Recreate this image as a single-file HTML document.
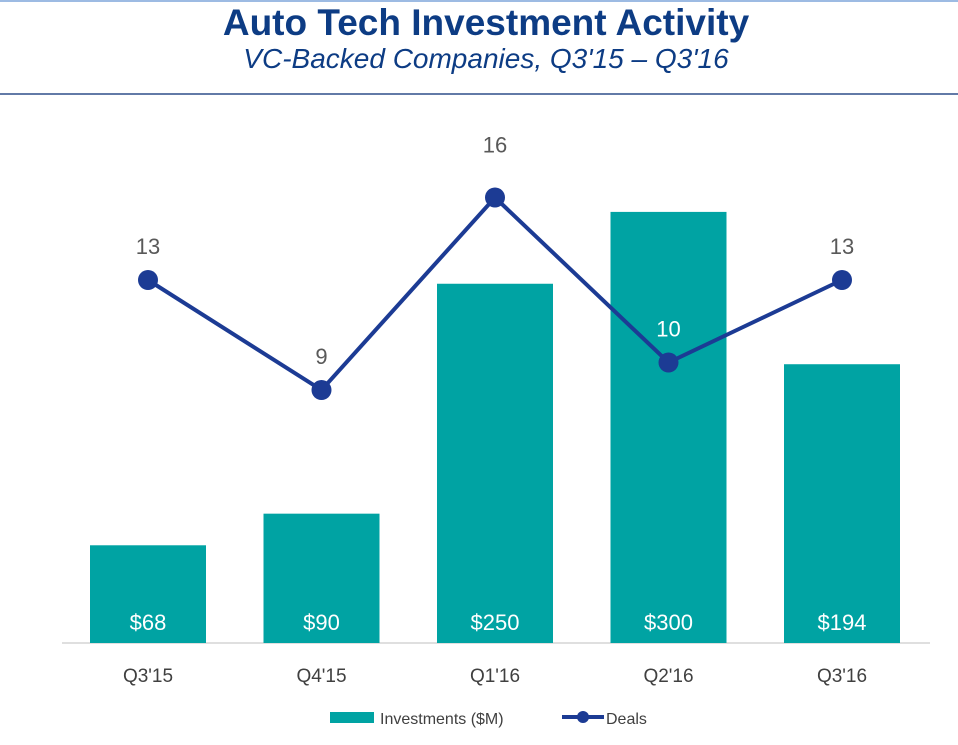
<!DOCTYPE html>
<html><head><meta charset="utf-8"><style>
body{margin:0;background:#fff;width:958px;height:740px;overflow:hidden;font-family:"Liberation Sans",sans-serif}
</style></head><body>
<svg width="958" height="740" xmlns="http://www.w3.org/2000/svg">
<line x1="0" y1="1" x2="958" y2="1" stroke="#9dbbe3" stroke-width="2"/>
<text x="486" y="35" text-anchor="middle" font-size="37" font-weight="bold" fill="#0d3c84">Auto Tech Investment Activity</text>
<text x="486" y="68" text-anchor="middle" font-size="28" font-style="italic" fill="#0d3c84">VC-Backed Companies, Q3'15 – Q3'16</text>
<line x1="0" y1="94" x2="958" y2="94" stroke="#2e4f8a" stroke-width="1.5"/>
<line x1="62" y1="643" x2="930" y2="643" stroke="#bfbfbf" stroke-width="1"/>
<g id="bars"></g><g id="line"></g><g id="xlabels"></g>
<g>
<rect x="330" y="712" width="44" height="11" fill="#00a3a3"/>
<text x="380" y="724" font-size="16" fill="#404040">Investments ($M)</text>
<line x1="562" y1="717" x2="604" y2="717" stroke="#1c3b94" stroke-width="4"/>
<circle cx="583" cy="717" r="6" fill="#1c3b94"/>
<text x="606" y="724" font-size="16" fill="#404040">Deals</text>
</g>
</svg>
<script>
const categories=["Q3'15","Q4'15","Q1'16","Q2'16","Q3'16"];
const investments=[68,90,250,300,194];
const deals=[13,9,16,10,13];
const NS="http://www.w3.org/2000/svg";
const xC=i=>148+i*173.5;
const yBar=v=>643-v*1.437;
const yDeal=d=>637.5-d*27.5;
function mk(t,a,p){const e=document.createElementNS(NS,t);for(const k in a)e.setAttribute(k,a[k]);p.appendChild(e);return e;}
const bars=document.getElementById('bars'),line=document.getElementById('line'),xl=document.getElementById('xlabels');
investments.forEach((v,i)=>{
 const r=mk('rect',{x:xC(i)-58,y:yBar(v),width:116,height:643-yBar(v),fill:'#00a3a3'},bars);
 
 
 const t=mk('text',{x:xC(i),y:630,'text-anchor':'middle','font-size':22,fill:'#fff'},bars);
 t.textContent='$'+v;
 
 
 const c=mk('text',{x:xC(i),y:682,'text-anchor':'middle','font-size':19,fill:'#404040'},xl);
 c.textContent=categories[i];
 
 
});
const pl=mk('polyline',{points:deals.map((d,i)=>xC(i)+','+yDeal(d)).join(' '),fill:'none',stroke:'#1c3b94','stroke-width':4},line);


const maxDeal=Math.max(...deals);
deals.forEach((d,i)=>{
 const c=mk('circle',{cx:xC(i),cy:yDeal(d),r:10,fill:'#1c3b94'},line);
 
 
 const off=d===maxDeal?45:26;
 const onBar=yDeal(d)-off>yBar(investments[i]);
 const t=mk('text',{x:xC(i),y:yDeal(d)-off,'text-anchor':'middle','font-size':22,fill:onBar?'#fff':'#595959'},line);
 t.textContent=d;
 
 
});
</script>
</body></html>
